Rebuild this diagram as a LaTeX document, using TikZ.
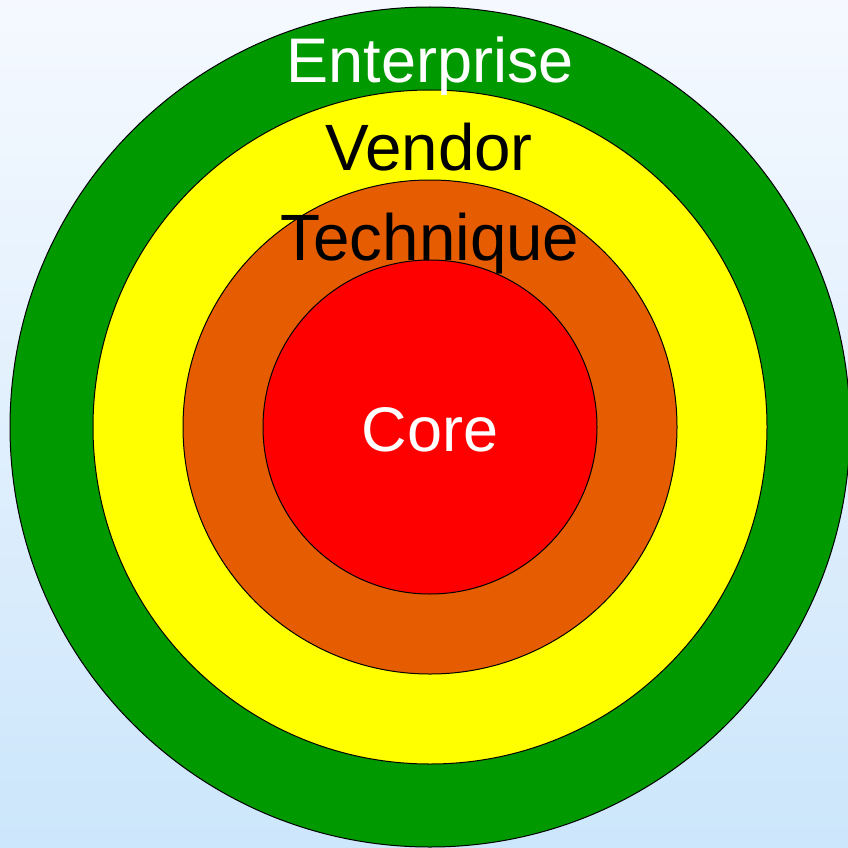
\documentclass[tikz,border=0pt]{standalone}
\usepackage{fontspec}
\setmainfont{Liberation Sans}
\begin{document}
\begin{tikzpicture}[x=1pt,y=-1pt,
  ring/.style={draw=black,line width=1pt},
  lbl/.style={font=\fontsize{63}{63}\selectfont,anchor=base,inner sep=0pt},
  lblbig/.style={font=\fontsize{65.5}{65.5}\selectfont,anchor=base,inner sep=0pt}]
\definecolor{bgtop}{HTML}{F5F9FF}
\definecolor{bgbot}{HTML}{CCE6FB}
\definecolor{entgreen}{HTML}{009900}
\definecolor{venyellow}{HTML}{FFFF00}
\definecolor{techorange}{HTML}{E65C00}
\definecolor{corered}{HTML}{FF0000}
\useasboundingbox (0,0) rectangle (848,848);
\shade[top color=bgtop,bottom color=bgbot] (0,0) rectangle (848,848);
\coordinate (c) at (430,427);
\fill[entgreen,ring] (c) circle[radius=420];
\fill[venyellow,ring] (c) circle[radius=337];
\fill[techorange,ring] (c) circle[radius=247];
\fill[corered,ring] (c) circle[radius=167];
\node[lbl,text=white] (ent) at (430,83) {Enterprise};
\node[lblbig,text=black] (ven) at (429,170) {Vendor};
\node[lblbig,text=black] (tech) at (430,260) {Technique};
\node[lbl,text=white] (core) at (430,451) {Core};
\end{tikzpicture}
\end{document}
